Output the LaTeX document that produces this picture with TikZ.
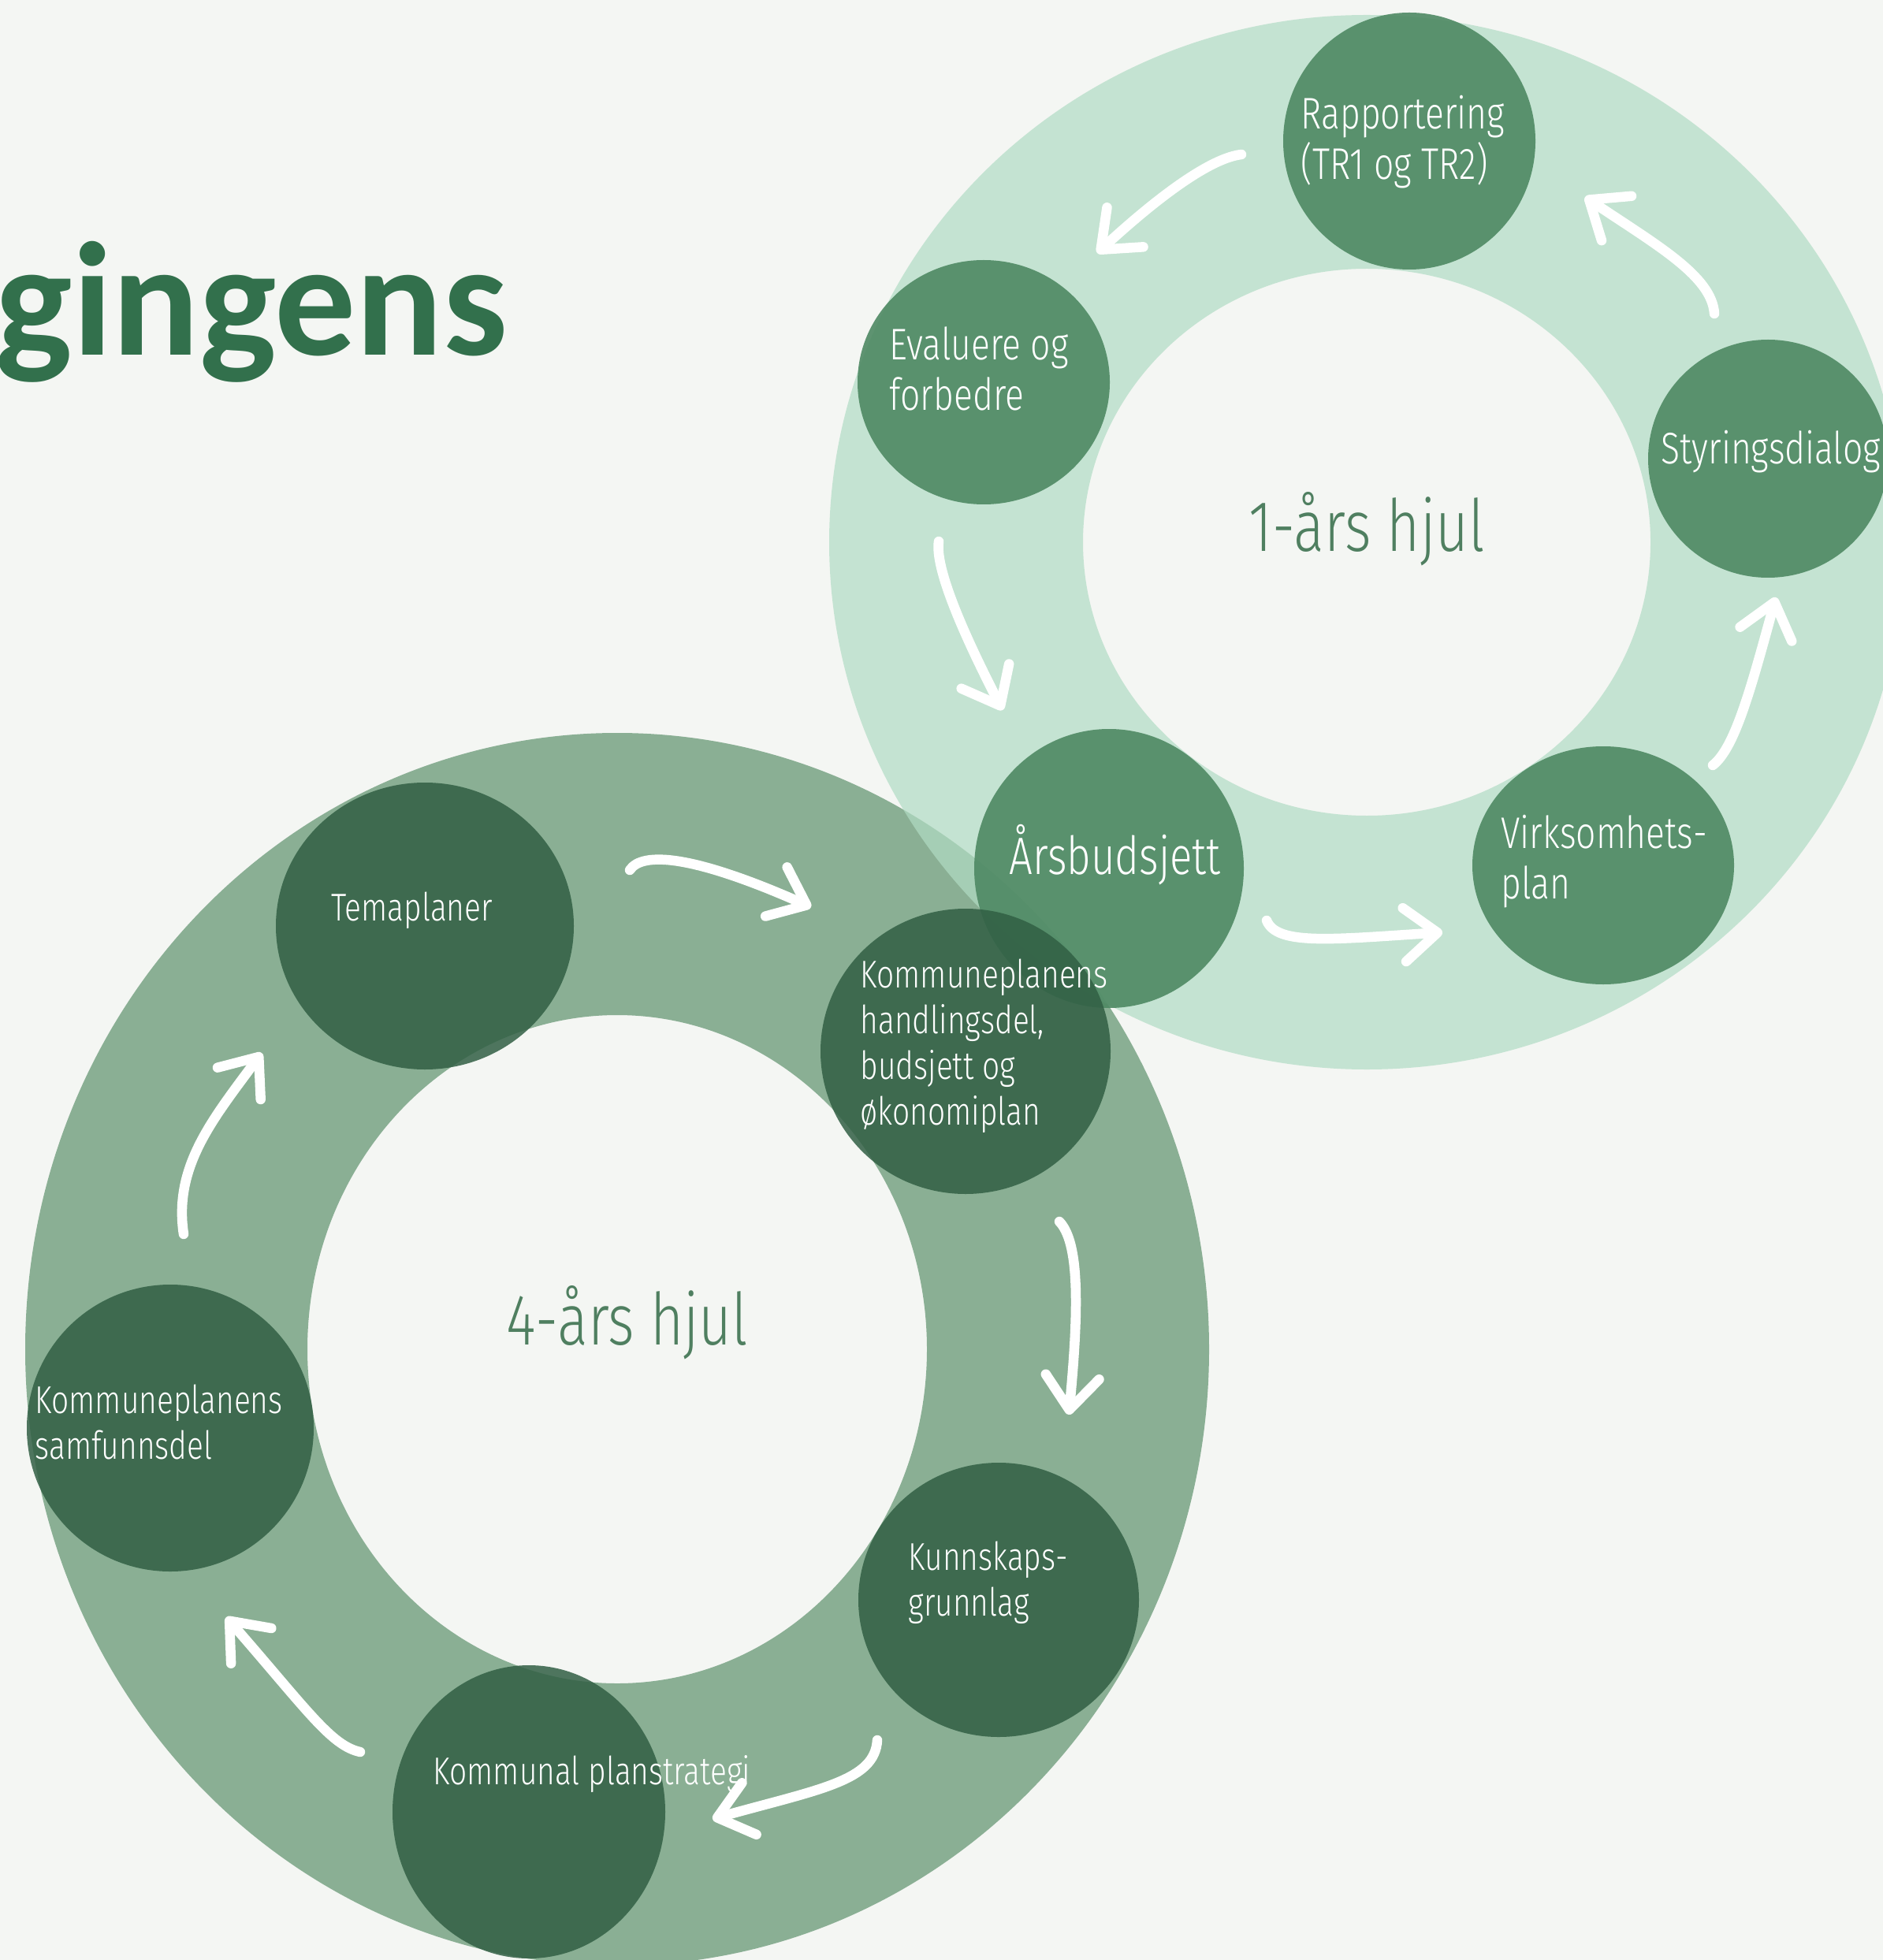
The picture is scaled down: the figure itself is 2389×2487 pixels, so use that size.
\documentclass[tikz,border=0pt]{standalone}
\usepackage{fontspec}
\usepackage{tikz}
\usetikzlibrary{arrows.meta}

\newfontfamily\lblfont{Fira Sans Light}[FakeStretch=0.79]
\newfontfamily\headfont{Carlito}

\definecolor{bgpaper}{HTML}{F4F6F3}
\definecolor{ringfour}{HTML}{8AAF94}
\definecolor{ringone}{HTML}{B1DCC4}
\definecolor{stepdark}{HTML}{315F44}
\definecolor{stepmid}{HTML}{4E8963}
\definecolor{headgreen}{HTML}{32704C}
\definecolor{wheeltext}{HTML}{4F7F60}

\begin{document}
\begin{tikzpicture}[x=0.1mm, y=-0.1mm,
	darkdot/.style={fill=stepdark, fill opacity=0.85},
	middot/.style={fill=stepmid, fill opacity=0.9},
	bigtxt/.style={font=\lblfont\fontsize{14}{16.5}\selectfont, text=white, align=left, anchor=west, inner sep=0pt},
	smalltxt/.style={font=\lblfont\fontsize{16}{18}\selectfont, text=white, align=left, anchor=west, inner sep=0pt},
	wheeltxt/.style={font=\lblfont\fontsize{26}{30}\selectfont, text=wheeltext, inner sep=0pt},
	flow/.style={draw=white, line width=1.25mm, line cap=round, -{Straight Barb[length=4.2mm, width=6.8mm, round]}},
]

% canvas %{{{2

	\useasboundingbox (0,0) rectangle (2389,2487);
	\clip (0,0) rectangle (2389,2487);
	\fill[bgpaper] (0,0) rectangle (2389,2487);

% title %{{{2

	\node[anchor=base west, inner sep=0pt, text=headgreen,
		font=\headfont\bfseries\fontsize{58.5}{62}\selectfont] (head) at (-6,451) {gingens};

% wheels %{{{2

	\fill[ringfour, even odd rule]
		(783,1712) ellipse [x radius=751, y radius=782]
		(783,1712) ellipse [x radius=393, y radius=424];

	\fill[ringone, fill opacity=0.7, even odd rule]
		(1734,688) ellipse [x radius=682, y radius=669]
		(1734,688) ellipse [x radius=360, y radius=347];

% discs %{{{2

	\foreach \cx/\cy/\rx/\ry in {1788/179/160/163, 1248/485/160/155, 2243/582/152/151,
		1407/1102/171/177, 2034/1098/166/151} {
		\fill[middot] (\cx,\cy) ellipse [x radius=\rx, y radius=\ry];
	}

	\foreach \cx/\cy/\rx/\ry in {539/1175/189/182, 1225/1334/184/181, 1267/2030/178/174,
		671/2299/173/186, 216/1812/182/182} {
		\fill[darkdot] (\cx,\cy) ellipse [x radius=\rx, y radius=\ry];
	}

% wheel labels %{{{2

	\node[wheeltxt] (onewheel) at (1734,671) {1-års hjul};
	\node[wheeltxt] (fourwheel) at (796,1678) {4-års hjul};

% step labels %{{{2

	\node[smalltxt] (rap) at (1650,180) {Rapportering\\(TR1 og TR2)};
	\node[smalltxt] (eva) at (1128,468) {Evaluere og\\forbedre};
	\node[smalltxt] (sty) at (2107,573) {Styringsdialog};
	\node[smalltxt, font=\lblfont\fontsize{19}{22}\selectfont] (ars) at (1280,1085) {Årsbudsjett};
	\node[smalltxt] (vir) at (1904,1093) {Virksomhets-\\plan};

	\node[bigtxt] (tema) at (420,1155) {Temaplaner};
	\node[bigtxt] (hand) at (1091,1327) {Kommuneplanens\\handlingsdel,\\budsjett og\\økonomiplan};
	\node[bigtxt] (kunn) at (1152,2008) {Kunnskaps-\\grunnlag};
	\node[bigtxt] (plan) at (549,2251) {Kommunal planstrategi};
	\node[bigtxt] (samf) at (44,1804) {Kommuneplanens\\samfunnsdel};

% arrow ends %{{{2

	\coordinate (a1s) at (1575,196);  \coordinate (a1e) at (1392,321);
	\coordinate (a2s) at (1191,687);  \coordinate (a2e) at (1272,901);
	\coordinate (a3s) at (1607,1168); \coordinate (a3e) at (1830,1183);
	\coordinate (a4s) at (2173,971);  \coordinate (a4e) at (2253,758);
	\coordinate (a5s) at (2175,398);  \coordinate (a5e) at (2011,250);

	\coordinate (b1s) at (799,1104);  \coordinate (b1e) at (1029,1151);
	\coordinate (b2s) at (1344,1550); \coordinate (b2e) at (1356,1795);
	\coordinate (b3s) at (1113,2208); \coordinate (b3e) at (904,2308);
	\coordinate (b4s) at (457,2223);  \coordinate (b4e) at (287,2052);
	\coordinate (b5s) at (233,1566);  \coordinate (b5e) at (332,1336);

% arrows, 1 year %{{{2

	\draw[flow] (a1s) .. controls (1540,200) and (1480,240) .. (a1e);
	\draw[flow] (a2s) .. controls (1186,720) and (1220,800) .. (a2e);
	\draw[flow] (a3s) .. controls (1620,1200) and (1690,1192) .. (a3e);
	\draw[flow] (a4s) .. controls (2200,950) and (2220,880) .. (a4e);
	\draw[flow] (a5s) .. controls (2172,350) and (2100,310) .. (a5e);

% arrows, 4 year %{{{2

	\draw[flow] (b1s) .. controls (815,1080) and (880,1085) .. (b1e);
	\draw[flow] (b2s) .. controls (1368,1575) and (1370,1650) .. (b2e);
	\draw[flow] (b3s) .. controls (1110,2260) and (1040,2270) .. (b3e);
	\draw[flow] (b4s) .. controls (420,2215) and (390,2170) .. (b4e);
	\draw[flow] (b5s) .. controls (220,1480) and (270,1420) .. (b5e);

% closing %{{{2

\end{tikzpicture}
\end{document}
